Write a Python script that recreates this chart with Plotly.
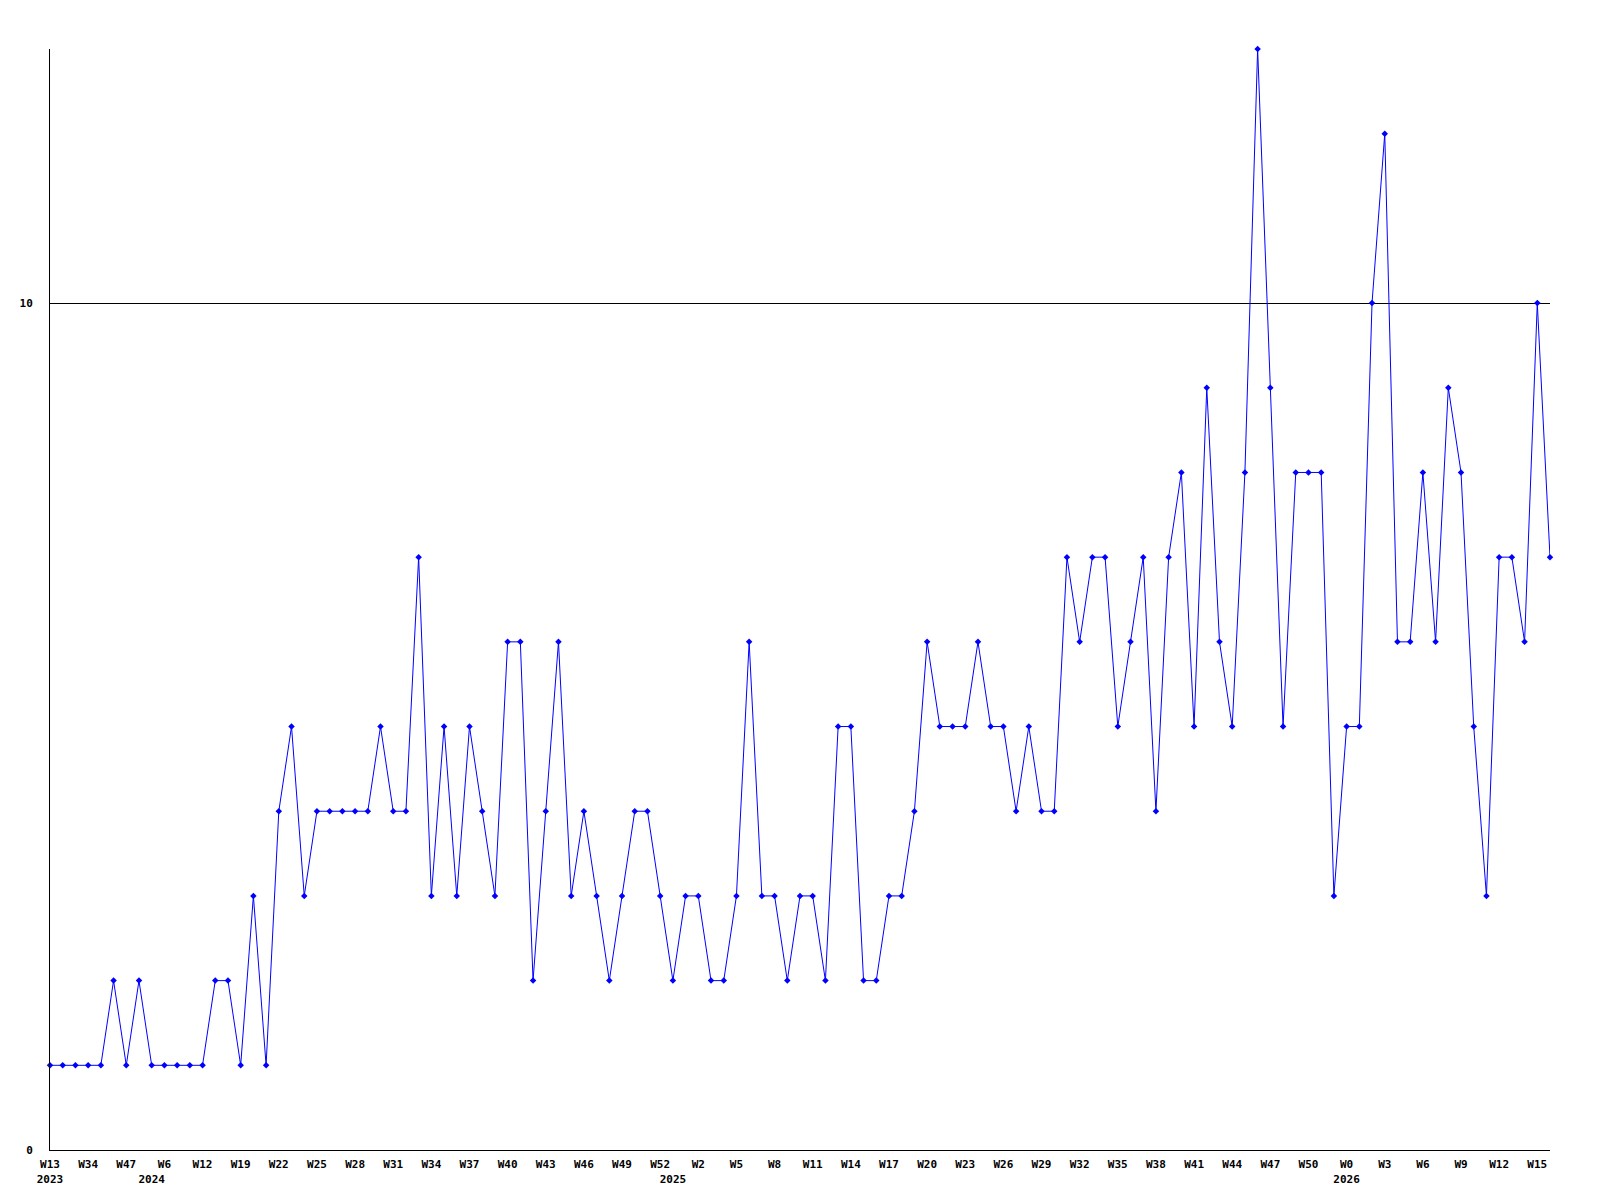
import plotly.graph_objects as go

# Weekly values (one point per week, left to right)
values = [1, 1, 1, 1, 1, 2, 1, 2, 1, 1, 1, 1, 1, 2, 2, 1, 3, 1, 4, 5,
          3, 4, 4, 4, 4, 4, 5, 4, 4, 7, 3, 5, 3, 5, 4, 3, 6, 6, 2, 4,
          6, 3, 4, 3, 2, 3, 4, 4, 3, 2, 3, 3, 2, 2, 3, 6, 3, 3, 2, 3,
          3, 2, 5, 5, 2, 2, 3, 3, 4, 6, 5, 5, 5, 6, 5, 5, 4, 5, 4, 4,
          7, 6, 7, 7, 5, 6, 7, 4, 7, 8, 5, 9, 6, 5, 8, 13, 9, 5, 8, 8,
          8, 3, 5, 5, 10, 12, 6, 6, 8, 6, 9, 8, 5, 3, 7, 7, 6, 10, 7]

# Tick labels: point index -> label text
tick_index = [0, 3, 6, 8, 9, 12, 15, 18, 21, 24, 27, 30, 33, 36, 39, 42, 45, 48,
              49, 51, 54, 57, 60, 63, 66, 69, 72, 75, 78, 81, 84, 87, 90, 93, 96,
              99, 102, 105, 108, 111, 114, 117]
tick_text = ["W13<br>2023", "W34", "W47", "<br>2024", "W6", "W12", "W19", "W22",
             "W25", "W28", "W31", "W34", "W37", "W40", "W43", "W46", "W49", "W52",
             "<br>2025", "W2", "W5", "W8", "W11", "W14", "W17", "W20", "W23", "W26",
             "W29", "W32", "W35", "W38", "W41", "W44", "W47", "W50", "W0<br>2026",
             "W3", "W6", "W9", "W12", "W15"]

y_ticks = [0, 10]
y_tick_text = ["0", "10"]

x = list(range(len(values)))

fig = go.Figure()
fig.add_trace(go.Scatter(
    x=x, y=values, mode="lines+markers",
    line=dict(color="#0000ff", width=1),
    marker=dict(symbol="diamond", size=5, color="#0000ff"),
    cliponaxis=False, showlegend=False, hoverinfo="y",
))

font = dict(family="DejaVu Sans Mono", size=11, color="#000000", weight="bold")

fig.update_layout(
    width=1600, height=1200,
    margin=dict(l=50, r=50, t=49, b=50),
    paper_bgcolor="white", plot_bgcolor="white",
    xaxis=dict(range=[0, len(values) - 1], showline=True, linecolor="black", linewidth=1,
               showgrid=False, zeroline=False, ticks="", tickmode="array",
               tickvals=tick_index, ticktext=tick_text, tickfont=font,
               ticklabelstandoff=4, tickangle=0),
    yaxis=dict(range=[0, 13], showline=True, linecolor="black", linewidth=1,
               showgrid=True, gridcolor="black", gridwidth=1, zeroline=False,
               ticks="", tickmode="array", tickvals=y_ticks, ticktext=y_tick_text,
               tickfont=font, ticklabelstandoff=14),
)

fig.write_html("out.html", config={"displayModeBar": False},
               post_script="document.body.style.margin='0';")
